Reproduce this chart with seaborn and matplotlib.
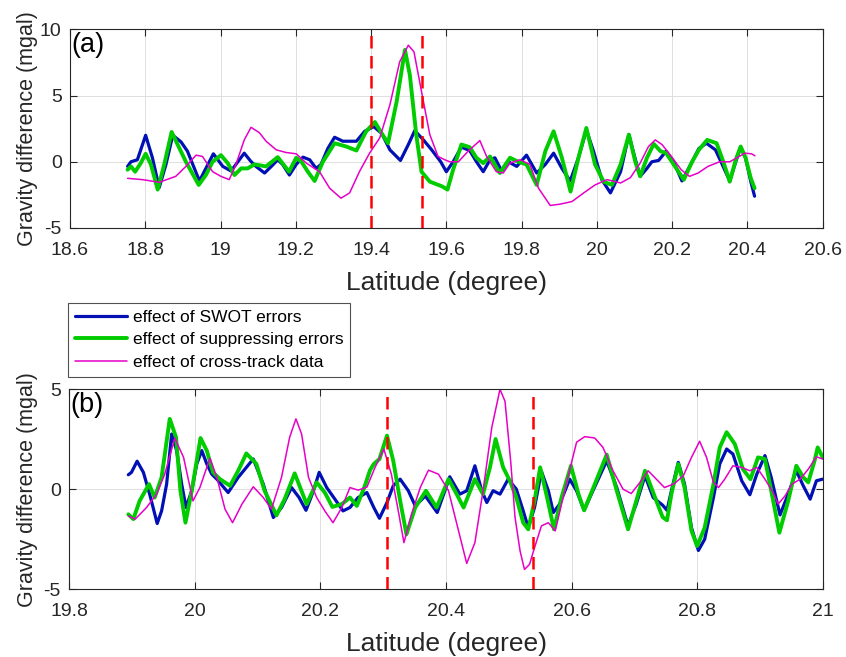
import numpy as np
import pandas as pd
import matplotlib
matplotlib.use("Agg")
import matplotlib.pyplot as plt
import seaborn as sns
from matplotlib.ticker import FuncFormatter, MultipleLocator

# ---------------- data: panel (a) ----------------
a_swot_lat = [18.753, 18.762, 18.779, 18.801, 18.819, 18.837, 18.855, 18.873, 18.895, 18.912,
              18.944, 18.961, 18.981, 19.006, 19.028, 19.046, 19.063, 19.080, 19.094, 19.117,
              19.135, 19.152, 19.165, 19.183, 19.201, 19.219, 19.237, 19.254, 19.267, 19.285,
              19.303, 19.325, 19.361, 19.383, 19.407, 19.428, 19.450, 19.478, 19.499, 19.516,
              19.539, 19.561, 19.585, 19.600, 19.618, 19.640, 19.662, 19.680, 19.698, 19.716,
              19.729, 19.747, 19.765, 19.787, 19.813, 19.840, 19.863, 19.885, 19.907, 19.929,
              19.951, 19.972, 19.991, 20.013, 20.036, 20.063, 20.085, 20.100, 20.115, 20.133,
              20.146, 20.164, 20.184, 20.204, 20.226, 20.253, 20.271, 20.291, 20.315, 20.333,
              20.353, 20.369, 20.382, 20.395, 20.409, 20.419]
a_swot_val = [-0.35, 0.0, 0.15, 2.0, 0.3, -1.95, -0.2, 2.0, 1.5, 0.8,
              -1.45, -0.5, 0.6, -0.35, -0.7, 0.0, 0.65, 0.05, -0.35, -0.85,
              -0.35, 0.15, -0.2, -1.0, -0.2, 0.35, 0.15, -0.5, -0.2, 1.0,
              1.85, 1.55, 1.55, 2.3, 2.65, 2.15, 0.9, 0.1, 1.3, 2.35,
              1.65, 0.9, 0.0, -0.75, 0.0, 1.1, 0.85, 0.0, -0.75, 0.15,
              0.3, -0.7, 0.0, -0.35, 0.5, -0.85, -0.2, 0.65, -0.5, -1.45,
              0.3, 2.4, 0.8, -1.35, -2.35, -0.75, 2.05, 0.4, -1.1, -0.5,
              0.0, 0.1, 0.8, 0.0, -1.45, 0.0, 1.0, 1.4, 0.9, -0.2,
              -1.45, 0.0, 1.1, 0.3, -1.5, -2.6]

a_supp_lat = [18.753, 18.762, 18.773, 18.788, 18.801, 18.815, 18.833, 18.850, 18.870, 18.886,
              18.908, 18.942, 18.961, 18.979, 19.001, 19.019, 19.037, 19.055, 19.072, 19.090,
              19.121, 19.152, 19.182, 19.201, 19.215, 19.232, 19.250, 19.272, 19.303, 19.334,
              19.361, 19.387, 19.410, 19.428, 19.445, 19.468, 19.490, 19.503, 19.520, 19.534,
              19.556, 19.588, 19.603, 19.618, 19.640, 19.662, 19.680, 19.698, 19.716, 19.742,
              19.769, 19.791, 19.813, 19.840, 19.863, 19.885, 19.907, 19.930, 19.951, 19.972,
              19.995, 20.018, 20.040, 20.063, 20.085, 20.102, 20.115, 20.133, 20.151, 20.169,
              20.184, 20.204, 20.231, 20.253, 20.271, 20.293, 20.318, 20.336, 20.353, 20.369,
              20.382, 20.395, 20.409, 20.419]
a_supp_val = [-0.6, -0.35, -0.75, -0.1, 0.6, -0.2, -2.1, -0.25, 2.25, 1.3,
              0.0, -1.75, -1.0, 0.0, 0.5, -0.1, -1.0, -0.5, -0.5, -0.2,
              -0.35, 0.35, -0.75, 0.3, 0.0, -0.75, -1.45, 0.0, 1.4, 1.15,
              0.85, 2.3, 3.0, 2.15, 1.4, 4.55, 8.45, 6.55, 2.05, -0.75,
              -1.5, -1.85, -2.1, -0.6, 1.3, 1.1, 0.3, -0.1, 0.4, -0.85,
              0.3, 0.0, -0.2, -1.75, 0.8, 2.3, 0.3, -2.25, 0.3, 2.55,
              -0.2, -1.5, -1.75, -0.2, 2.05, 0.0, -1.1, 0.3, 1.35, 0.8,
              0.65, -0.2, -1.35, 0.0, 0.9, 1.65, 1.4, 0.0, -1.5, 0.15,
              1.15, 0.3, -1.25, -2.0]

a_cross_lat = [18.753, 18.793, 18.837, 18.881, 18.908, 18.935, 18.952, 18.979, 19.001, 19.023,
               19.041, 19.063, 19.081, 19.103, 19.121, 19.148, 19.174, 19.201, 19.228, 19.263,
               19.290, 19.320, 19.343, 19.369, 19.396, 19.423, 19.450, 19.476, 19.499, 19.514,
               19.534, 19.556, 19.578, 19.596, 19.609, 19.632, 19.658, 19.689, 19.707, 19.733,
               19.751, 19.769, 19.796, 19.822, 19.845, 19.876, 19.902, 19.934, 19.965, 19.995,
               20.027, 20.063, 20.089, 20.115, 20.137, 20.155, 20.173, 20.198, 20.224, 20.246,
               20.269, 20.295, 20.326, 20.353, 20.375, 20.393, 20.411, 20.420]
a_cross_val = [-1.25, -1.35, -1.55, -1.1, -0.35, 0.5, 0.4, -0.75, -1.1, -1.35,
               -0.2, 1.65, 2.6, 2.2, 1.55, 0.9, 0.7, 0.6, -0.1, -0.75,
               -2.0, -2.75, -2.35, -0.75, 0.65, 1.8, 4.3, 7.55, 8.8, 8.3,
               5.3, 2.05, 0.4, 0.15, 0.0, 0.0, 0.8, 1.6, 0.4, -0.75,
               -0.85, -0.1, 0.15, -0.2, -2.0, -3.3, -3.2, -3.0, -2.35, -1.75,
               -1.35, -1.6, -1.2, -0.1, 1.15, 1.65, 1.3, 0.4, -0.6, -1.1,
               -0.85, -0.35, 0.0, 0.0, 0.35, 0.65, 0.6, 0.45]

a_dashed = [19.40, 19.535]

# ---------------- data: panel (b) ----------------
b_swot_lat = [19.894, 19.899, 19.908, 19.918, 19.928, 19.940, 19.947, 19.955, 19.963, 19.971,
              19.979, 19.986, 19.995, 20.003, 20.011, 20.019, 20.027, 20.035, 20.053, 20.069,
              20.093, 20.109, 20.125, 20.138, 20.154, 20.166, 20.177, 20.189, 20.198, 20.210,
              20.223, 20.236, 20.247, 20.260, 20.274, 20.285, 20.294, 20.306, 20.316, 20.327,
              20.340, 20.351, 20.367, 20.386, 20.406, 20.422, 20.433, 20.446, 20.457, 20.465,
              20.475, 20.486, 20.499, 20.512, 20.523, 20.531, 20.541, 20.552, 20.563, 20.571,
              20.581, 20.597, 20.608, 20.620, 20.634, 20.656, 20.672, 20.690, 20.703, 20.717,
              20.730, 20.745, 20.752, 20.759, 20.770, 20.780, 20.791, 20.802, 20.812, 20.826,
              20.836, 20.847, 20.857, 20.871, 20.884, 20.895, 20.908, 20.918, 20.932, 20.945,
              20.958, 20.969, 20.980, 20.990, 21.000]
b_swot_val = [0.72, 0.84, 1.4, 0.84, -0.25, -1.72, -1.09, 0.25, 2.76, 1.93,
              0.25, -0.92, -0.08, 1.26, 1.93, 1.26, 0.75, 0.5, -0.17, 0.59,
              1.51, 0.25, -1.42, -0.92, 0.08, -0.42, -1.06, -0.08, 0.84, 0.08,
              -0.5, -1.09, -0.92, -0.42, -0.17, -0.92, -1.46, -0.67, 0.17, 0.5,
              -0.08, -0.84, -0.34, -1.17, 0.62, -0.25, -0.08, 1.17, -0.08, -0.67,
              -0.08, -0.25, 0.5, 0.0, -1.09, -1.93, -0.92, 0.89, -0.08, -1.17,
              -0.75, 0.5, -0.08, -1.06, -0.08, 1.42, 0.08, -1.84, -0.75, 0.67,
              -0.42, -0.8, -1.06, -0.08, 1.34, 0.25, -1.93, -3.07, -2.51, -0.42,
              1.26, 2.01, 1.76, 0.42, -0.28, 0.75, 1.68, 0.59, -1.29, -0.25,
              0.92, 0.17, -0.5, 0.42, 0.5]

b_supp_lat = [19.894, 19.902, 19.912, 19.927, 19.936, 19.947, 19.960, 19.970, 19.977, 19.985,
              19.995, 20.009, 20.019, 20.029, 20.040, 20.056, 20.069, 20.082, 20.098, 20.111,
              20.130, 20.143, 20.159, 20.178, 20.194, 20.207, 20.219, 20.234, 20.247, 20.258,
              20.270, 20.279, 20.285, 20.294, 20.306, 20.316, 20.327, 20.337, 20.351, 20.368,
              20.385, 20.404, 20.417, 20.428, 20.446, 20.459, 20.470, 20.479, 20.491, 20.502,
              20.512, 20.523, 20.531, 20.541, 20.550, 20.561, 20.572, 20.584, 20.599, 20.611,
              20.620, 20.637, 20.656, 20.672, 20.690, 20.703, 20.717, 20.733, 20.745, 20.752,
              20.759, 20.770, 20.780, 20.791, 20.800, 20.812, 20.826, 20.836, 20.847, 20.860,
              20.873, 20.885, 20.897, 20.908, 20.918, 20.931, 20.945, 20.958, 20.969, 20.977,
              20.987, 20.992, 21.000]
b_supp_val = [-1.26, -1.5, -0.59, 0.25, -0.42, 0.59, 3.52, 2.6, -0.08, -1.68,
              -0.08, 2.56, 1.93, 0.84, 0.5, 0.17, 0.92, 1.79, 1.26, -0.08,
              -1.31, -0.5, 0.79, -0.75, 0.34, -0.17, -0.89, -0.75, -0.42, -0.84,
              0.1, 0.95, 1.26, 1.51, 2.68, 1.42, -0.59, -2.26, -0.92, -0.08,
              -0.92, 0.5, -0.25, -0.92, 0.5, -0.25, 1.09, 2.51, 1.09, 0.4,
              -0.42, -1.68, -2.01, -0.59, 1.09, -0.42, -2.01, -0.42, 1.17, -0.25,
              -1.06, 0.25, 1.73, -0.08, -2.01, -0.59, 0.92, -0.42, -1.4, -1.56,
              -0.25, 1.26, 0.08, -2.09, -2.85, -1.93, 0.25, 2.09, 2.85, 2.26,
              1.0, 0.5, 1.59, 1.51, -0.08, -2.18, -0.59, 1.17, 0.59, 0.34,
              1.42, 2.09, 1.59]

b_cross_lat = [19.894, 19.905, 19.923, 19.939, 19.952, 19.968, 19.982, 19.997, 20.008, 20.024,
               20.035, 20.048, 20.060, 20.075, 20.093, 20.109, 20.122, 20.138, 20.151, 20.161,
               20.170, 20.181, 20.194, 20.207, 20.220, 20.234, 20.247, 20.260, 20.274, 20.287,
               20.301, 20.313, 20.324, 20.333, 20.345, 20.359, 20.372, 20.388, 20.404, 20.420,
               20.433, 20.446, 20.459, 20.473, 20.486, 20.494, 20.503, 20.510, 20.518, 20.525,
               20.533, 20.541, 20.552, 20.563, 20.574, 20.584, 20.598, 20.608, 20.621, 20.637,
               20.650, 20.666, 20.682, 20.695, 20.709, 20.722, 20.735, 20.748, 20.764, 20.778,
               20.791, 20.804, 20.815, 20.826, 20.834, 20.844, 20.857, 20.871, 20.884, 20.895,
               20.908, 20.921, 20.929, 20.940, 20.951, 20.964, 20.977, 20.990, 21.000]
b_cross_val = [-1.34, -1.5, -0.92, -0.25, 0.75, 2.56, 1.59, -0.59, 0.08, 1.55,
               0.59, -1.0, -1.68, -0.75, 0.12, -0.42, -1.0, 0.59, 2.6, 3.52,
               2.76, 0.59, -0.42, -1.09, -1.68, -0.92, 0.08, -0.05, 0.1, 1.09,
               2.01, 0.75, -1.09, -2.68, -1.26, 0.08, 0.95, 0.75, -0.08, -2.09,
               -3.72, -2.68, -0.08, 3.1, 5.0, 4.4, 1.4, -1.42, -3.1, -4.02,
               -3.77, -2.93, -1.84, -1.68, -2.09, -0.75, 1.09, 2.35, 2.63, 2.56,
               2.09, 0.92, 0.0, -0.22, 0.34, 0.92, 0.5, 0.08, 0.28, 0.67,
               1.59, 2.4, 1.59, 0.34, 0.08, 0.5, 1.17, 1.09, 0.92, 1.09,
               0.5, -0.17, -0.75, -0.34, 0.25, 0.5, 1.0, 1.62, 1.51]

b_dashed = [20.306, 20.539]

labels = ["effect of SWOT errors", "effect of suppressing errors", "effect of cross-track data"]
colors = ["#0010B4", "#00CC00", "#E600C8"]
widths = [2.3, 2.8, 1.1]

# ---------------- style ----------------
sns.set_theme(style="white")
plt.rcParams["font.family"] = ["Liberation Sans", "DejaVu Sans"]
plt.rcParams["axes.unicode_minus"] = False

fig = plt.figure(figsize=(8.46, 6.57), dpi=100)
fig.patch.set_facecolor("white")
W, H = 846.0, 657.0
ax1 = fig.add_axes([70 / W, 1 - 228 / H, 752.7 / W, 198.7 / H])
ax2 = fig.add_axes([69.3 / W, 1 - 589 / H, 753.4 / W, 199.7 / H])

fmt = FuncFormatter(lambda v, p: "%g" % round(v, 6))

panels = [
    (ax1, [(a_swot_lat, a_swot_val), (a_supp_lat, a_supp_val), (a_cross_lat, a_cross_val)],
     a_dashed, (18.6, 20.6), (-5, 10), "(a)"),
    (ax2, [(b_swot_lat, b_swot_val), (b_supp_lat, b_supp_val), (b_cross_lat, b_cross_val)],
     b_dashed, (19.8, 21.0), (-5, 5), "(b)"),
]

for ax, series, dashed, xl, yl, tag in panels:
    for (lat, val), lab, c, lw in zip(series, labels, colors, widths):
        df = pd.DataFrame({"lat": lat, "val": val})
        sns.lineplot(data=df, x="lat", y="val", ax=ax, color=c, linewidth=lw,
                     sort=False, estimator=None, label=lab, legend=False,
                     solid_joinstyle="round", solid_capstyle="round")
    for d in dashed:
        ax.axvline(d, color="#FF0000", linewidth=1.8, linestyle=(0, (5, 3)), zorder=5)
    ax.set_xlim(*xl)
    ax.set_ylim(*yl)
    ax.xaxis.set_major_locator(MultipleLocator(0.2))
    ax.yaxis.set_major_locator(MultipleLocator(5))
    ax.xaxis.set_major_formatter(fmt)
    ax.yaxis.set_major_formatter(fmt)
    ax.grid(True, color="#DEDEDE", linewidth=0.7)
    ax.set_axisbelow(True)
    for s in ax.spines.values():
        s.set_color("#262626")
        s.set_linewidth(0.8)
        s.set_visible(True)
    ax.tick_params(axis="both", direction="in", length=5, width=0.8, color="#262626",
                   labelsize=14, labelcolor="#262626", top=True, right=True,
                   bottom=True, left=True)
    ax.tick_params(axis="x", pad=10)
    ax.tick_params(axis="y", pad=6)
    ax.set_xlabel("Latitude (degree)", fontsize=19, color="#262626", labelpad=9)
    ax.set_ylabel("Gravity difference (mgal)", fontsize=15.5, color="#262626")
    ax.yaxis.set_label_coords(-0.042, 0.5)
    ax.text(0.002, 0.988, tag, transform=ax.transAxes, fontsize=19.5, color="#000000",
            ha="left", va="top", zorder=6)

handles, labs = ax1.get_legend_handles_labels()
leg = fig.legend(handles[:3], labs[:3], loc="upper left",
                 bbox_to_anchor=(68.3 / W, 1 - 303.3 / H), borderaxespad=0,
                 frameon=True, fancybox=False, edgecolor="#262626", fontsize=12.5,
                 handlelength=3.0, handletextpad=0.3, labelspacing=0.4, borderpad=0.4)
leg.get_frame().set_linewidth(0.8)
for t in leg.get_texts():
    t.set_color("#000000")

fig.savefig("out.png", dpi=100, facecolor="white")
